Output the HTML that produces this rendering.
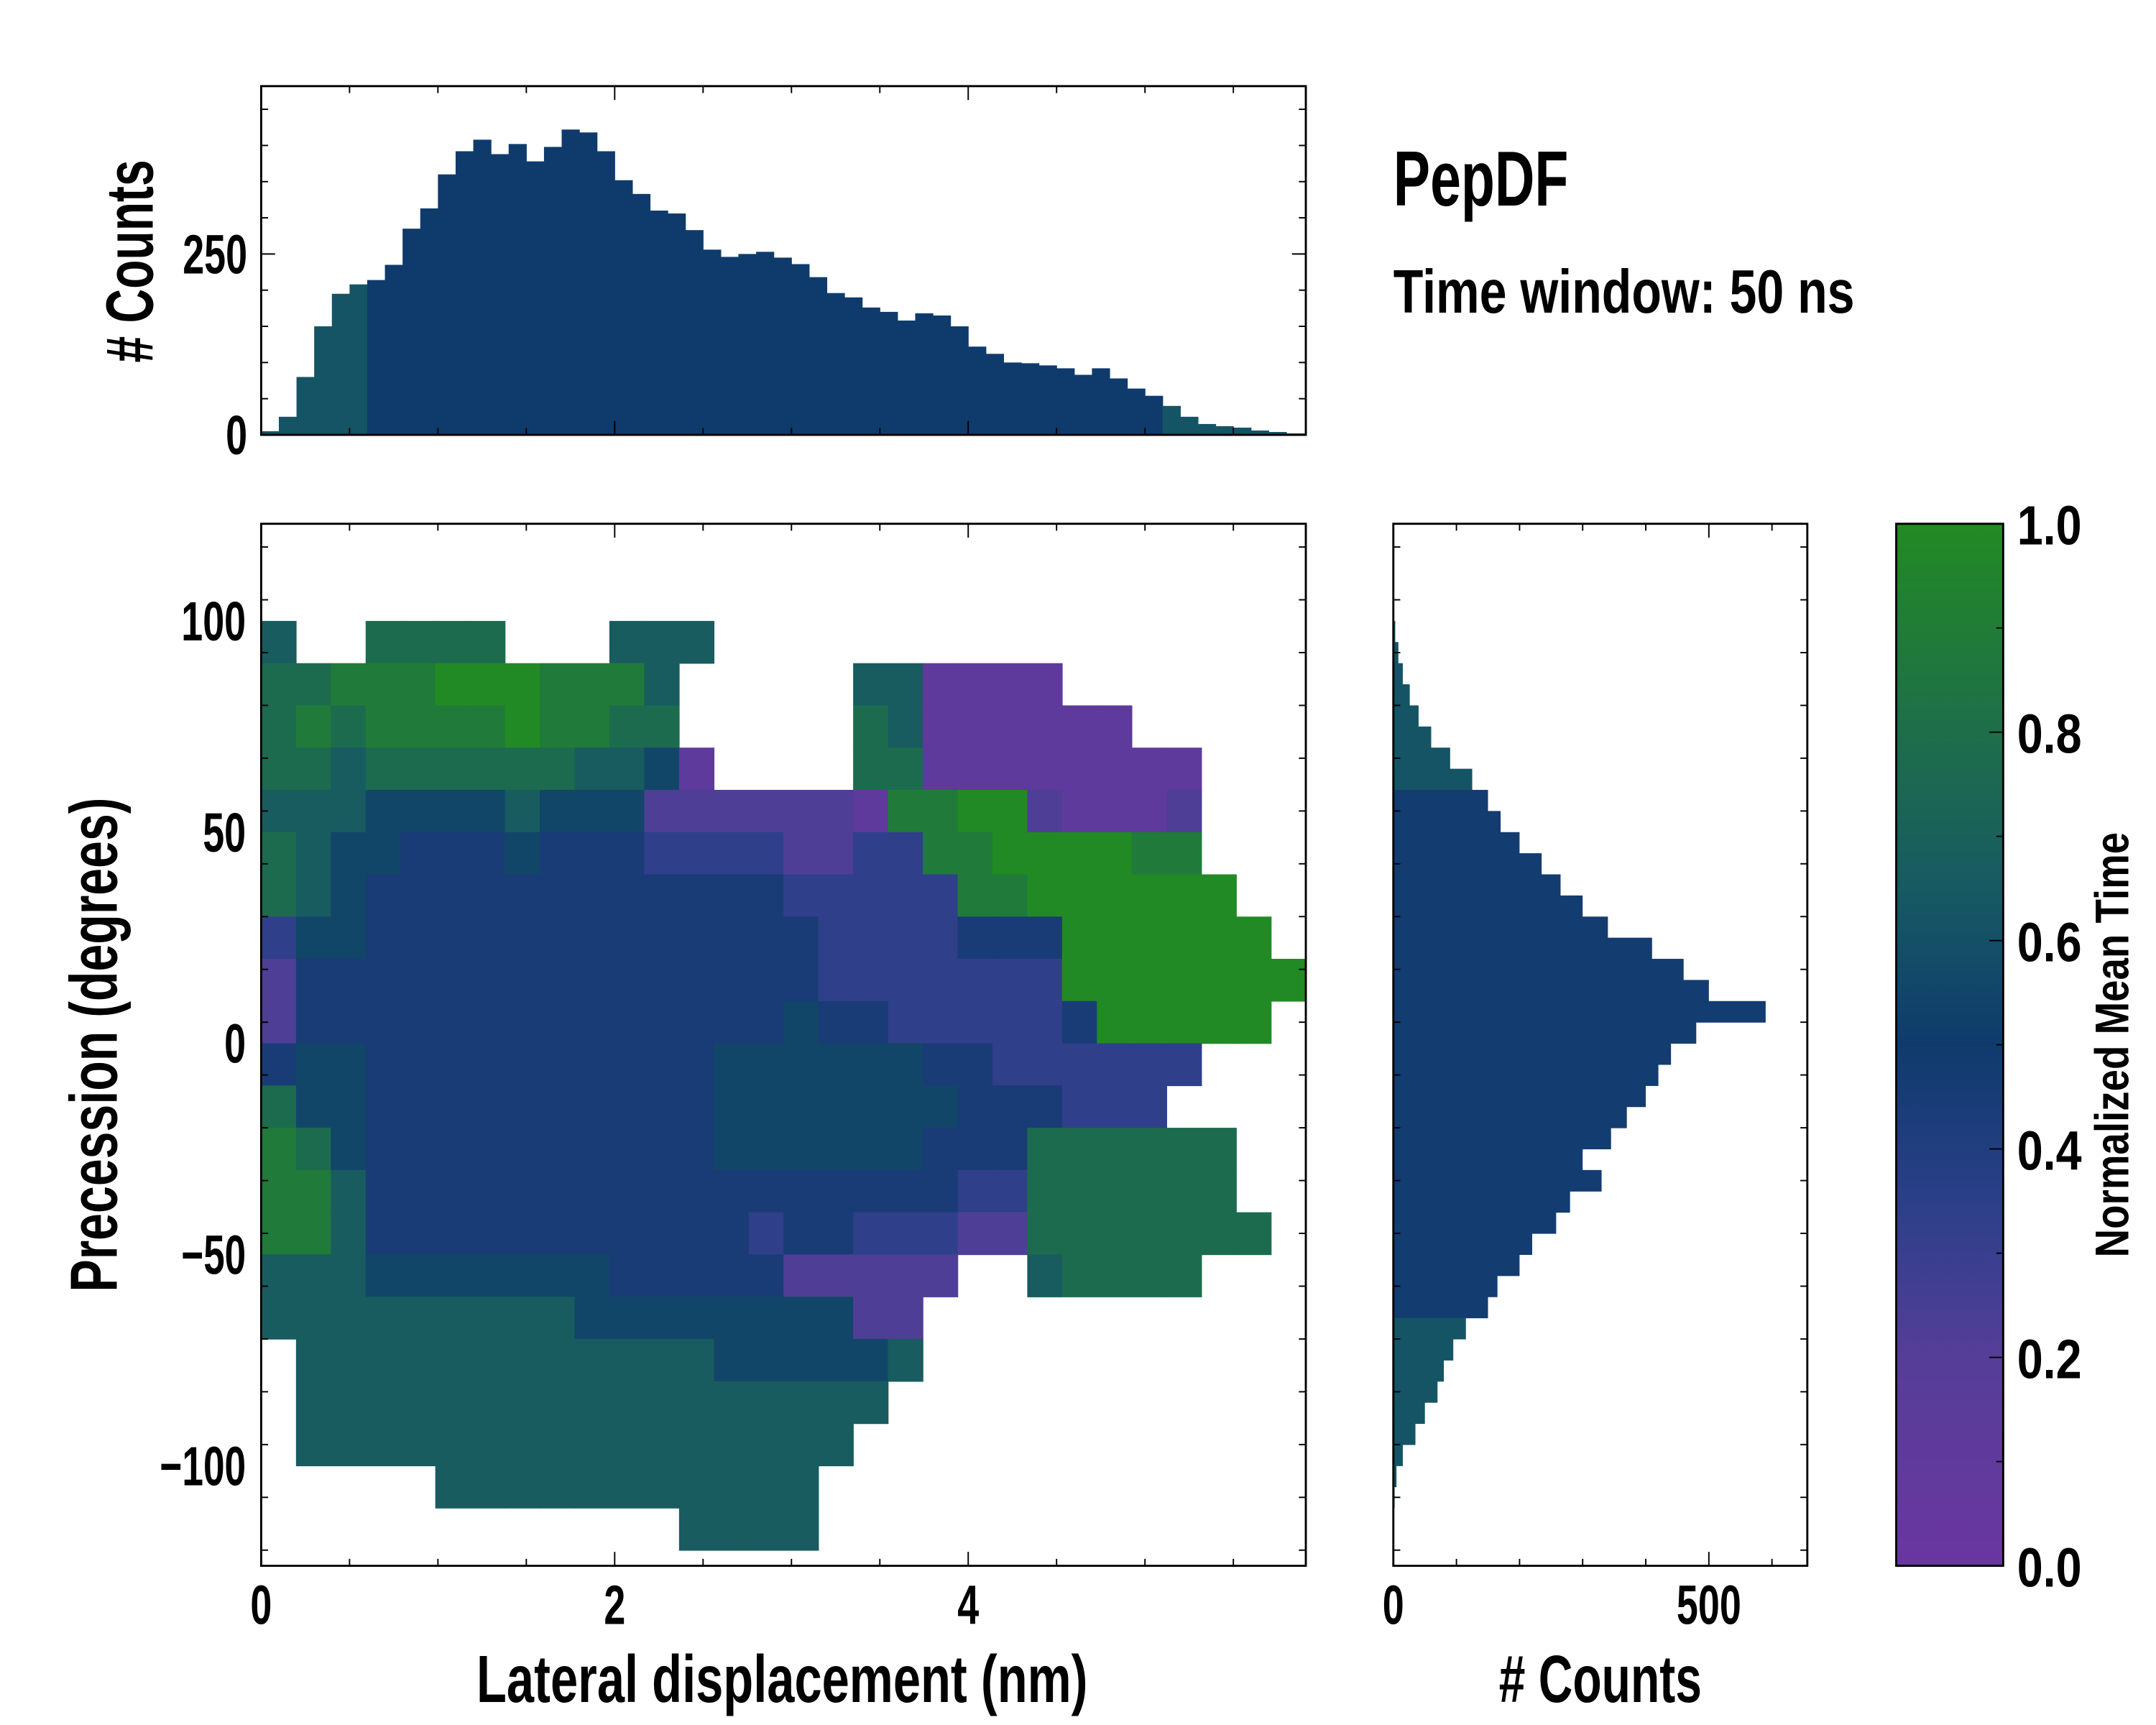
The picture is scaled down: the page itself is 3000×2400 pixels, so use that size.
<!DOCTYPE html>
<html><head><meta charset="utf-8"><style>
html,body{margin:0;padding:0;background:#fff;}
svg{display:block;}
text{font-family:"Liberation Sans Narrow","Liberation Sans",sans-serif;font-weight:bold;fill:#000;}
</style></head><body>
<svg id="fig" xmlns="http://www.w3.org/2000/svg" width="3000" height="2400" viewBox="0 0 1552 1241.6">
<defs>
<linearGradient id="cbgrad" x1="0" y1="1" x2="0" y2="0">
<stop offset="0" stop-color="#6a36a0"/><stop offset="0.2" stop-color="#553e98"/>
<stop offset="0.35" stop-color="#2b3f88"/><stop offset="0.5" stop-color="#0f3b6c"/>
<stop offset="0.65" stop-color="#175a62"/><stop offset="0.8" stop-color="#1e6e4a"/>
<stop offset="1" stop-color="#228a24"/></linearGradient>
</defs>
<g id="top-hist"></g>
<g id="main"></g>
<g id="right-hist"></g>
<g id="cbar">
<rect x="1365" y="377" width="77" height="750" fill="url(#cbgrad)" stroke="#000" stroke-width="1.5"/>
</g>
<g id="labels">
<text x="1003" y="148" font-size="56" textLength="126" lengthAdjust="spacingAndGlyphs">PepDF</text>
<text x="1003" y="225" font-size="44" textLength="332" lengthAdjust="spacingAndGlyphs">Time window: 50 ns</text>
<text x="563" y="1225" font-size="48" text-anchor="middle" textLength="440" lengthAdjust="spacingAndGlyphs">Lateral displacement (nm)</text>
<text x="1152" y="1225" font-size="48" text-anchor="middle" textLength="146" lengthAdjust="spacingAndGlyphs"># Counts</text>
<text transform="translate(84,752) rotate(-90)" font-size="48" text-anchor="middle" textLength="356" lengthAdjust="spacingAndGlyphs">Precession (degrees)</text>
<text transform="translate(110,188) rotate(-90)" font-size="48" text-anchor="middle" textLength="146" lengthAdjust="spacingAndGlyphs"># Counts</text>
<text transform="translate(1532,752) rotate(-90)" font-size="34" text-anchor="middle" textLength="306" lengthAdjust="spacingAndGlyphs">Normalized Mean Time</text>
</g>
</svg>
<script>
// ---- data ----
const topCounts = [5,25,80,150,195,208,214,235,285,313,360,392,408,388,402,378,398,422,418,392,352,333,310,306,283,256,246,250,253,245,236,218,196,190,176,170,158,168,165,150,122,112,100,99,96,92,83,92,78,64,54,40,25,15,12,10,6,4,2];
const rightCounts = [3,8,15,26,40,60,90,125,150,170,200,235,265,300,340,410,460,500,590,480,440,420,400,370,345,300,330,280,258,220,200,165,150,115,95,80,70,50,35,15,5,2];
const heatRows = [
"6..77 77... 666.. ..... ..... .....",
"77888 99988 86... ..661 111.. .....",
"78788 88988 77... ..761 11111 .....",
"77677 77776 651.. ..771 11111 11...",
"66655 55655 52222 22188 99211 12...",
"76554 44544 43333 22338 89999 88...",
"76544 44444 44444 33333 88999 999..",
"35544 44444 44444 43333 44499 9999.",
"24444 44444 44444 43333 33399 99999",
"24444 44444 44444 54433 33349 9999.",
"45544 44444 44455 55554 43333 33...",
"75544 44444 44455 55555 44433 3....",
"87544 44444 44455 55554 44777 777..",
"88644 44444 44444 44444 33777 777..",
"88644 44444 44443 44333 22777 7777.",
"66655 55555 44444 22222 ..677 77...",
"66666 66665 55555 5522. ..... .....",
".6666 66666 66655 5556. ..... .....",
".6666 66666 66666 666.. ..... .....",
".6666 66666 66666 66... ..... .....",
"..... 66666 66666 6.... ..... .....",
"..... ..... ..666 6.... ..... ....."
];
const xTicks = [0,2,4];
const yTicks = [100,50,0,-50,-100];
const topYTicks = [0,250];
const rightXTicks = [0,500];
const cbTicks = [0.0,0.2,0.4,0.6,0.8,1.0];

// ---- axes ----
const M = {x0:188,x1:940,y0:377,y1:1127,xmin:0,xmax:5.91,ymin:-123.7,ymax:123};
const sx = v => M.x0 + (v-M.xmin)/(M.xmax-M.xmin)*(M.x1-M.x0);
const sy = v => M.y1 - (v-M.ymin)/(M.ymax-M.ymin)*(M.y1-M.y0);
const T = {y0:62,y1:313,max:482};
const tyc = c => T.y1 - c/T.max*(T.y1-T.y0);
const R = {x0:1003,x1:1301,max:656};
const rxc = c => R.x0 + c/R.max*(R.x1-R.x0);
const cbY = v => 1127 - v*750;
const NS='http://www.w3.org/2000/svg';
function mk(tag, attrs, parent){const e=document.createElementNS(NS,tag);for(const k in attrs)e.setAttribute(k,attrs[k]);parent.appendChild(e);return e;}
function lbl(txt, x, y, anchor, parent){
  const s=String(txt);
  const t=mk('text',{x:x,y:y,'font-size':40,'text-anchor':anchor,textLength:s.length*15.5,lengthAdjust:'spacingAndGlyphs'},parent);
  t.textContent=s; return t;
}
const stops=[[0,[106,54,160]],[0.2,[85,62,152]],[0.35,[43,63,136]],[0.5,[15,59,108]],[0.65,[23,90,98]],[0.8,[30,110,74]],[1,[34,138,36]]];
function cmap(v){for(let i=1;i<stops.length;i++){if(v<=stops[i][0]){const a=stops[i-1],b=stops[i];const t=(v-a[0])/(b[0]-a[0]);const c=a[1].map((x,j)=>Math.round(x+(b[1][j]-x)*t));return `rgb(${c})`;}}return 'rgb(34,138,36)';}

// heatmap
const gMain=document.getElementById('main');
const nCols=30, colW=5.91/30, rowH=10;
const rows=heatRows.map(r=>r.replace(/ /g,''));
rows.forEach((row,r)=>{
  for(let c=0;c<nCols;c++){
    const ch=row[c]; if(!ch||ch==='.') continue;
    const v=parseInt(ch,10)/9;
    const x=sx(c*colW), y=sy(100-r*rowH);
    const el=mk('rect',{x:x,y:y,width:sx((c+1)*colW)-x+0.4,height:sy(100-(r+1)*rowH)-y+0.4,fill:cmap(v)},gMain);
    
    
  }
});
mk('rect',{x:M.x0,y:M.y0,width:M.x1-M.x0,height:M.y1-M.y0,fill:'none',stroke:'#000','stroke-width':1.5},gMain);
for(let v=0;v<=5.9;v+=0.5){const x=sx(v),L=(Math.abs(v%2)<1e-6)?10:5;mk('line',{x1:x,x2:x,y1:M.y1,y2:M.y1-L,stroke:'#000'},gMain);mk('line',{x1:x,x2:x,y1:M.y0,y2:M.y0+L,stroke:'#000'},gMain);}
for(let v=-120;v<=120;v+=12.5){const y=sy(v),L=(v%50===0)?10:5;mk('line',{x1:M.x0,x2:M.x0+L,y1:y,y2:y,stroke:'#000'},gMain);mk('line',{x1:M.x1,x2:M.x1-L,y1:y,y2:y,stroke:'#000'},gMain);}
xTicks.forEach(v=>{const t=lbl(v,sx(v),1169,'middle',gMain);

});
yTicks.forEach(v=>{const t=lbl(v<0?'\u2212'+(-v):v,177,sy(v)+14,'end',gMain);

});

// top histogram
const gTop=document.getElementById('top-hist');
const bw=0.1;
topCounts.forEach((c,i)=>{
  const x=sx(i*bw), w=sx((i+1)*bw)-x;
  const edge=(i<6||i>50)?0.62:0.5;
  const el=mk('rect',{x:x,y:tyc(c),width:w+0.3,height:T.y1-tyc(c),fill:cmap(edge)},gTop);
  
  
});
mk('rect',{x:M.x0,y:T.y0,width:M.x1-M.x0,height:T.y1-T.y0,fill:'none',stroke:'#000','stroke-width':1.5},gTop);
for(let v=0;v<=5.9;v+=0.5){const x=sx(v),L=(Math.abs(v%2)<1e-6)?10:5;mk('line',{x1:x,x2:x,y1:T.y1,y2:T.y1-L,stroke:'#000'},gTop);mk('line',{x1:x,x2:x,y1:T.y0,y2:T.y0+L,stroke:'#000'},gTop);}
for(let v=0;v<=475;v+=50){const y=tyc(v),L=(v%250===0)?10:5;mk('line',{x1:M.x0,x2:M.x0+L,y1:y,y2:y,stroke:'#000'},gTop);mk('line',{x1:M.x1,x2:M.x1-L,y1:y,y2:y,stroke:'#000'},gTop);}
topYTicks.forEach(v=>{const t=lbl(v,178,tyc(v)+14,'end',gTop);

});

// right histogram
const gR=document.getElementById('right-hist');
const rb=5;
rightCounts.forEach((c,i)=>{
  const yTop=100-i*rb, y=sy(yTop), h=sy(yTop-rb)-y;
  const edge=(i<8||i>32)?0.62:0.48;
  const el=mk('rect',{x:R.x0,y:y,width:rxc(c)-R.x0,height:h+0.3,fill:cmap(edge)},gR);
  
  
});
mk('rect',{x:R.x0,y:M.y0,width:R.x1-R.x0,height:M.y1-M.y0,fill:'none',stroke:'#000','stroke-width':1.5},gR);
for(let v=0;v<=650;v+=100){const x=rxc(v),L=(v%500===0)?10:5;mk('line',{x1:x,x2:x,y1:M.y1,y2:M.y1-L,stroke:'#000'},gR);mk('line',{x1:x,x2:x,y1:M.y0,y2:M.y0+L,stroke:'#000'},gR);}
for(let v=-120;v<=120;v+=12.5){const y=sy(v),L=(v%50===0)?10:5;mk('line',{x1:R.x0,x2:R.x0+L,y1:y,y2:y,stroke:'#000'},gR);mk('line',{x1:R.x1,x2:R.x1-L,y1:y,y2:y,stroke:'#000'},gR);}
rightXTicks.forEach(v=>{const t=lbl(v,rxc(v),1169,'middle',gR);

});

// colorbar ticks
const gC=document.getElementById('cbar');
cbTicks.forEach(v=>{const y=cbY(v);mk('line',{x1:1442,x2:1432,y1:y,y2:y,stroke:'#000'},gC);
const t=lbl(v.toFixed(1),1452,y+15,'start',gC);

});
for(let v=0.1;v<1;v+=0.2){const y=cbY(v);mk('line',{x1:1442,x2:1437,y1:y,y2:y,stroke:'#000'},gC);}
</script>
</body></html>
